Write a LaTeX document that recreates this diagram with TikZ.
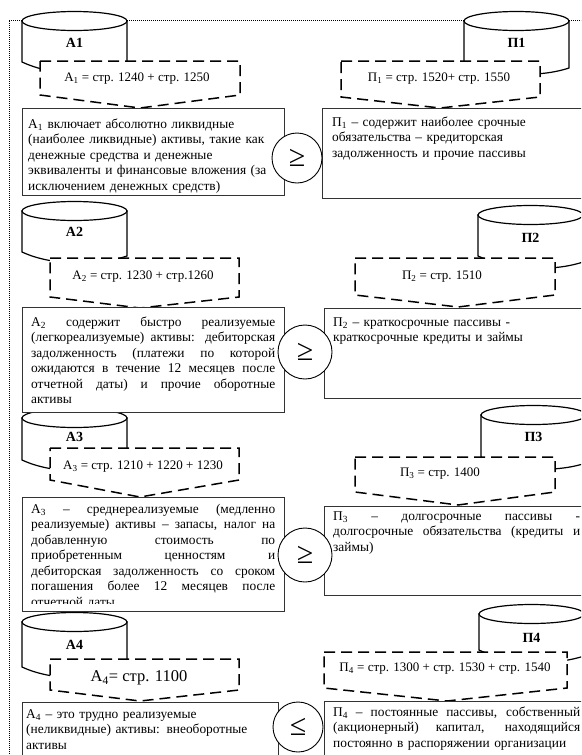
\documentclass[tikz,border=0pt]{standalone}
\usepackage{fontspec}
\setmainfont{Liberation Serif}
\newcommand{\sub}[1]{\textsubscript{#1}}
\newcommand{\jl}[2][244pt]{{\spaceskip=0pt\xspaceskip=0pt\makebox[#1][s]{#2}}}

\begin{document}
\begin{tikzpicture}[x=1pt,y=-1pt,
    cylbody/.style={draw=black,fill=white,line width=1.2pt},
    cyllabel/.style={font=\fontsize{14}{16}\selectfont\bfseries,inner sep=0pt},
    dashbox/.style={draw=black,fill=white,line width=1.5pt,dash pattern=on 11pt off 6pt},
    formula/.style={font=\fontsize{13}{15}\selectfont,inner sep=0pt},
    txtbox/.style={draw=black!80,fill=white,line width=0.9pt,anchor=north west,inner sep=0pt},
    bodytext/.style={font=\fontsize{13.4}{15.5}\selectfont,anchor=north west,inner sep=0pt,text width=250pt,align=left},
    relsign/.style={circle,draw=black,fill=white,line width=0.9pt,minimum size=50pt,inner sep=0pt,font=\fontsize{30}{30}\selectfont}]
    \useasboundingbox (0,0) rectangle (581,755);
    \clip (0,0) rectangle (581,755);

    % dotted frame
    \draw [line width=1pt,dash pattern=on 1pt off 1pt] (9,770) -- (9,20) -- (600,20);

    % storage cylinders
    \foreach \xl/\xr/\yc/\yl/\yr/\nm/\lb/\ly in {
        22/127/21/62/68/a1/А1/43, 464/569/21/62/68/p1/П1/43,
        22/127/211/252/256/a2/А2/232, 478/583/215/256/262/p2/П2/238,
        22/127/418/460/464/a3/А3/437, 481/586/415/457/463/p3/П3/437,
        22/127/622/667/671/a4/А4/645, 479/584/614/650/656/p4/П4/638}
    {
        \filldraw [cylbody] (\xl,\yc) -- (\xl,\yl) .. controls (\xl+30,\yl+14) and (\xr-30,\yr+10) .. (\xr,\yr) -- (\xr,\yc) -- cycle;
        \filldraw [cylbody] ({(\xl+\xr)/2},\yc) ellipse [x radius={(\xr-\xl)/2}, y radius=9.5];
        \node [cyllabel] (c\nm) at ({(\xl+\xr)/2},\ly) {\lb};
    }

    % dashed formula boxes
    \foreach \xl/\xr/\yt/\ys/\xp/\yp in {
        40/240/61/95/140/108, 341/540/61/97/440/108,
        50/239/258/297/140/308, 355/555/258/295/458/307,
        50/239/448/480/140/497, 355/555/457/492/458/505,
        50/239/659/690/140/701, 324/567/652/688/447/701}
        \filldraw [dashbox] (\xl,\yt) -- (\xr,\yt) -- (\xr,\ys) -- (\xp,\yp) -- (\xl,\ys) -- cycle;

    \node [formula] (fa1) at (137,79) {А\sub{1} = стр. 1240 + стр. 1250};
    \node [formula] (fp1) at (439,79) {П\sub{1} = стр. 1520+ стр. 1550};
    \node [formula] (fa2) at (143,277) {А\sub{2} = стр. 1230 + стр.1260};
    \node [formula] (fp2) at (442,277) {П\sub{2} = стр. 1510};
    \node [formula] (fa3) at (143,467) {А\sub{3} = стр. 1210 + 1220 + 1230};
    \node [formula] (fp3) at (440,474) {П\sub{3} = стр. 1400};
    \node [formula,font=\fontsize{16.5}{18}\selectfont] (fa4) at (139,678) {А\sub{4}= стр. 1100};
    \node [formula] (fp4) at (445,669) {П\sub{4} = стр. 1300 + стр. 1530 + стр. 1540};

    % description boxes
    \node [txtbox,minimum width=262,minimum height=87] (ba1) at (22,108) {};
    \node [txtbox,minimum width=280,minimum height=90] (bp1) at (322,108) {};
    \node [txtbox,minimum width=262,minimum height=105] (ba2) at (22,307) {};
    \node [txtbox,minimum width=280,minimum height=90] (bp2) at (324,308) {};
    \node [txtbox,minimum width=262,minimum height=114] (ba3) at (22,497) {};
    \node [txtbox,minimum width=280,minimum height=89] (bp3) at (324,506) {};
    \node [txtbox,minimum width=256,minimum height=70] (ba4) at (22,702) {};
    \node [txtbox,minimum width=280,minimum height=70] (bp4) at (324,701) {};

    \node [bodytext] (ta1) at ([shift={(6,9)}]ba1.north west) {\strut А\sub{1} включает абсолютно ликвидные\\
        (наиболее ликвидные) активы, такие как\\
        денежные средства и денежные\\
        эквиваленты и финансовые вложения (за\\
        исключением денежных средств)};
    \node [bodytext] (tp1) at ([shift={(10,7)}]bp1.north west) {\strut П\sub{1} – содержит наиболее срочные\\
        обязательства – кредиторская\\
        задолженность и прочие пассивы};
    \node [bodytext] (ta2) at ([shift={(9,8)}]ba2.north west) {\strut\jl{А\sub{2} содержит быстро реализуемые}\\
        \jl{(легкореализуемые) активы: дебиторская}\\
        \jl{задолженность (платежи по которой}\\
        \jl{ожидаются в течение 12 месяцев после}\\
        \jl{отчетной даты) и прочие оборотные}\\
        активы};
    \node [bodytext] (tp2) at ([shift={(9,7)}]bp2.north west) {\strut П\sub{2} – краткосрочные пассивы -\\
        краткосрочные кредиты и займы};
    \begin{scope}
        \clip (ba3.north west) rectangle ([yshift=8.5pt]ba3.south east);
        \node [bodytext] (ta3) at ([shift={(9,5)}]ba3.north west) {\strut\jl{А\sub{3} – среднереализуемые (медленно}\\
            \jl{реализуемые) активы – запасы, налог на}\\
            \jl{добавленную стоимость по}\\
            \jl{приобретенным ценностям и}\\
            \jl{дебиторская задолженность со сроком}\\
            \jl{погашения более 12 месяцев после}\\
            отчетной даты};
    \end{scope}
    \node [bodytext] (tp3) at ([shift={(9,3)}]bp3.north west) {\strut\jl[247pt]{П\sub{3} – долгосрочные пассивы -}\\
        \jl[247pt]{долгосрочные обязательства (кредиты и}\\
        займы)};
    \node [bodytext] (ta4) at ([shift={(4,5)}]ba4.north west) {\strut А\sub{4} – это трудно реализуемые\\
        (неликвидные) активы: внеоборотные\\
        активы};
    \node [bodytext] (tp4) at ([shift={(9,4)}]bp4.north west) {\strut\jl[247pt]{П\sub{4} – постоянные пассивы, собственный}\\
        \jl[247pt]{(акционерный) капитал, находящийся}\\
        постоянно в распоряжении организации};

    % relation signs
    \node [relsign] (r1) at (297,158) {≥};
    \node [relsign,minimum size=54] (r2) at (305,352) {≥};
    \node [relsign,minimum size=54] (r3) at (305,555) {≥};
    \node [relsign] (r4) at (298,727) {≤};
\end{tikzpicture}
\end{document}
